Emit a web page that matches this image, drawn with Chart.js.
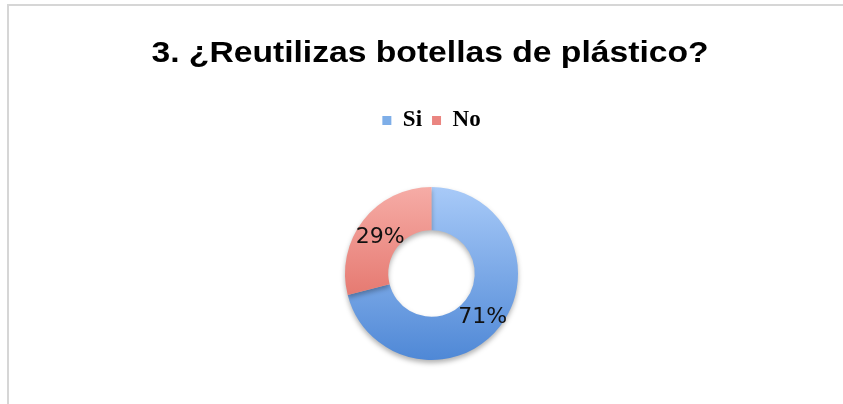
<!DOCTYPE html>
<html lang="es">

<head>
    <meta charset="UTF-8">
    <title>Reutilizas botellas</title>
    <style>
        html, body {
            margin: 0;
            padding: 0;
            background: #fff;
            overflow: hidden;
        }

        .frame {
            position: absolute;
            left: 7px;
            top: 4px;
            width: 900px;
            height: 500px;
            border-top: 2px solid #d6d6d6;
            border-left: 2px solid #d6d6d6;
        }

        .wrap {
            position: absolute;
            left: 0;
            top: 0;
            width: 843px;
            height: 404px;
        }
    </style>
</head>

<body>
    <div class="frame"></div>
    <div class="wrap"><canvas id="chart"></canvas></div>

    <script src="https://cdn.jsdelivr.net/npm/chart.js@4.4.3/dist/chart.umd.min.js"></script>
    <script>
        const titleText = '3. ¿Reutilizas botellas de plástico?'
        const labels = ['Si', 'No']
        const values = [71, 29]
        // light (top) -> dark (bottom) per slice
        const lightColors = ['#a8caf8', '#f6aca6']
        const darkColors = ['#4f88d6', '#dc5c52']
        const flatColors = ['#7eaee8', '#ea8580']

        function sliceFill(ctx) {
            const area = ctx.chart.chartArea
            if (!area) return flatColors[ctx.dataIndex]
            const g = ctx.chart.ctx.createLinearGradient(0, area.top, 0, area.bottom)
            g.addColorStop(0, lightColors[ctx.dataIndex])
            g.addColorStop(1, darkColors[ctx.dataIndex])
            return g
        }

        // title drawn a bit wide, like the original export
        const wideTitle = {
            id: 'wideTitle',
            afterDraw(chart) {
                const c = chart.ctx
                c.save()
                c.font = 'bold 29px "Liberation Sans", Arial, sans-serif'
                c.fillStyle = '#000'
                c.textAlign = 'center'
                c.textBaseline = 'alphabetic'
                c.translate(430, 62)
                c.scale(1.16, 1)
                c.fillText(titleText, 0, 0)
                c.restore()
            }
        }

        // extra room between legend and ring
        const legendGap = {
            id: 'legendGap',
            beforeInit(chart) {
                const fit = chart.legend.fit
                chart.legend.fit = function () {
                    fit.call(this)
                    this.height += 45
                }
            }
        }

        // percent text inside each slice
        const pctLabels = {
            id: 'pctLabels',
            afterDatasetsDraw(chart) {
                const c = chart.ctx
                const meta = chart.getDatasetMeta(0)
                const total = values.reduce((a, b) => a + b, 0)
                c.save()
                c.font = '22px "DejaVu Sans", sans-serif'
                c.fillStyle = '#111'
                c.textAlign = 'center'
                c.textBaseline = 'middle'
                meta.data.forEach((arc, i) => {
                    const p = arc.tooltipPosition()
                    c.fillText(Math.round(values[i] / total * 100) + '%', p.x, p.y + 4)
                })
                c.restore()
            }
        }

        // soft shadow under the ring
        const ringShadow = {
            id: 'ringShadow',
            beforeDatasetsDraw(chart) {
                const c = chart.ctx
                c.save()
                c.shadowColor = 'rgba(0,0,0,0.3)'
                c.shadowBlur = 5
                c.shadowOffsetY = 3
            },
            afterDatasetsDraw(chart) {
                chart.ctx.restore()
            }
        }

        new Chart(document.getElementById('chart'), {
            type: 'doughnut',
            data: {
                labels: labels,
                datasets: [{
                    data: values,
                    backgroundColor: sliceFill,
                    borderWidth: 0,
                }],
            },
            options: {
                responsive: true,
                maintainAspectRatio: false,
                animation: false,
                cutout: '50%',
                layout: {
                    padding: { top: 99, bottom: 44, left: 20 }
                },
                plugins: {
                    title: { display: false },
                    legend: {
                        display: true,
                        position: 'top',
                        labels: {
                            color: '#000',
                            boxWidth: 9,
                            boxHeight: 9,
                            padding: 10,
                            font: { family: '"Liberation Serif", "Times New Roman", serif', size: 23, weight: 'bold' },
                            generateLabels(chart) {
                                return labels.map((l, i) => ({
                                    text: l,
                                    fillStyle: flatColors[i],
                                    strokeStyle: flatColors[i],
                                    lineWidth: 0,
                                    index: i,
                                }))
                            },
                        },
                    },
                    tooltip: { enabled: false },
                },
            },
            plugins: [legendGap, ringShadow, pctLabels, wideTitle],
        })
    </script>
</body>

</html>
